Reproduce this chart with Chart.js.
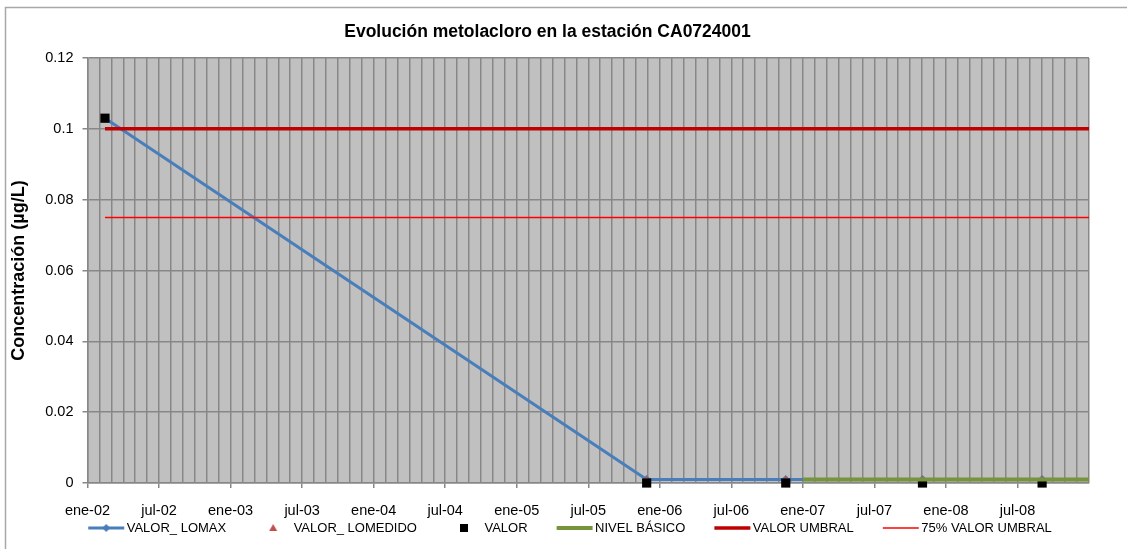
<!DOCTYPE html>
<html>
<head>
<meta charset="utf-8">
<script src="https://cdn.jsdelivr.net/npm/chart.js@4"></script>
<style>
  html, body { margin: 0; padding: 0; background: #fff; }
  #wrap { width: 1127px; height: 549px; }
</style>
</head>
<body>
<div id="wrap"><canvas id="grafico"></canvas></div>
<script>
/* Evolución metolacloro – estación CA0724001 */

/* ── datos ─────────────────────────────────────────────── */
const fechasMuestreo = ['2002-02-14', '2005-11-28', '2006-11-18', '2007-11-02', '2008-09-03'];
const valorLomax     = [0.103, 0.001, 0.001, 0.001, 0.001];
const valorLomedido  = [null, 0.001, 0.001, 0.001, 0.001];
const valor          = [0.103, 0, 0, 0, 0];

const fechasNivel    = ['2007-01-01', '2009-01-01'];
const nivelBasico    = [0.001, 0.001];

const fechasUmbral   = ['2002-02-14', '2009-01-01'];
const valorUmbral    = [0.1, 0.1];
const umbral75       = [0.075, 0.075];

const xTickLabels = ['ene-02', 'jul-02', 'ene-03', 'jul-03', 'ene-04', 'jul-04', 'ene-05',
                     'jul-05', 'ene-06', 'jul-06', 'ene-07', 'jul-07', 'ene-08', 'jul-08'];
const yTicks      = [0, 0.02, 0.04, 0.06, 0.08, 0.1, 0.12];
const yTickLabels = ['0', '0.02', '0.04', '0.06', '0.08', '0.1', '0.12'];

/* meses desde ene-02 (eje de fechas) */
function mesIndice(f) {
  const [a, m, d] = f.split('-').map(Number);
  const dias = new Date(a, m, 0).getDate();
  return (a - 2002) * 12 + (m - 1) + (d - 1) / dias;
}
const pares = (fechas, vals) => fechas.map((f, i) => ({ x: mesIndice(f), y: vals[i] }));

/* ── colores ───────────────────────────────────────────── */
const AZUL = '#4a7ebb', ROJO_TRI = '#c0504d', VERDE = '#77933c',
      ROJO_OSC = '#c00000', ROJO = '#ff0000', GRIS = '#878787';

/* leyenda: caja ancha, el símbolo va pegado al texto */
const CAJA = 59;
function simbolo(tipo) {
  const c = document.createElement('canvas');
  c.width = CAJA + 10; c.height = 12;
  const g = c.getContext('2d');
  const x0 = c.width - 37, x1 = c.width - 1, xm = (x0 + x1) / 2;
  const linea = (col, w) => {
    g.strokeStyle = col; g.lineWidth = w;
    g.beginPath(); g.moveTo(x0, 6); g.lineTo(x1, 6); g.stroke();
  };
  if (tipo === 'lomax') {
    linea(AZUL, 3);
    g.fillStyle = AZUL;
    g.beginPath(); g.moveTo(xm, 2); g.lineTo(xm + 4, 6); g.lineTo(xm, 10); g.lineTo(xm - 4, 6); g.fill();
  } else if (tipo === 'lomedido') {
    g.fillStyle = ROJO_TRI;
    g.beginPath(); g.moveTo(xm, 2); g.lineTo(xm + 4, 9); g.lineTo(xm - 4, 9); g.fill();
  } else if (tipo === 'valor') {
    g.fillStyle = '#000'; g.fillRect(xm - 4, 2, 8, 8);
  } else if (tipo === 'nivel') {
    linea(VERDE, 4);
  } else if (tipo === 'umbral') {
    linea(ROJO_OSC, 3.5);
  } else {
    linea(ROJO, 1.5);
  }
  return c;
}

/* ── fondo gris del área de trazado y marco exterior ───── */
const fondo = {
  id: 'fondo',
  afterLayout(chart) {
    chart.legend.left += 9;
    chart.legend.right += 9;
  },
  beforeDraw(chart) {
    const { ctx, chartArea: a, width, height } = chart;
    ctx.save();
    ctx.fillStyle = '#fff';
    ctx.fillRect(0, 0, width, height);
    ctx.strokeStyle = '#a8a8a8';
    ctx.lineWidth = 1.5;
    ctx.beginPath();
    ctx.moveTo(5.5, height); ctx.lineTo(5.5, 7.5); ctx.lineTo(width, 7.5);
    ctx.stroke();
    ctx.fillStyle = '#c0c0c0';
    ctx.fillRect(a.left, a.top, a.right - a.left, a.bottom - a.top);
    ctx.restore();
  }
};

Chart.defaults.font.family = '"Liberation Sans", Arial, sans-serif';
Chart.defaults.color = '#000';

const datasets = [
  { label: 'VALOR_ LOMAX', data: pares(fechasMuestreo, valorLomax), sym: 'lomax',
    showLine: true, borderColor: AZUL, backgroundColor: AZUL, borderWidth: 3,
    pointStyle: 'rectRot', pointRadius: 4.5, pointBorderWidth: 0, order: 6 },
  { label: 'VALOR_ LOMEDIDO', data: pares(fechasMuestreo, valorLomedido), sym: 'lomedido',
    showLine: false, backgroundColor: ROJO_TRI, borderColor: ROJO_TRI,
    pointStyle: 'triangle', pointRadius: 4, pointBorderWidth: 0, order: 5 },
  { label: 'VALOR', data: pares(fechasMuestreo, valor), sym: 'valor',
    showLine: false, backgroundColor: '#000', borderColor: '#000',
    pointStyle: 'rect', pointRadius: 6.5, pointBorderWidth: 0, order: 4 },
  { label: 'NIVEL BÁSICO', data: pares(fechasNivel, nivelBasico), sym: 'nivel',
    showLine: true, borderColor: VERDE, backgroundColor: VERDE, borderWidth: 4, pointRadius: 0, order: 3 },
  { label: 'VALOR UMBRAL', data: pares(fechasUmbral, valorUmbral), sym: 'umbral',
    showLine: true, borderColor: ROJO_OSC, backgroundColor: ROJO_OSC, borderWidth: 3.5, pointRadius: 0, order: 2 },
  { label: '75% VALOR UMBRAL', data: pares(fechasUmbral, umbral75), sym: 'u75',
    showLine: true, borderColor: ROJO, backgroundColor: ROJO, borderWidth: 1.5, pointRadius: 0, order: 1 }
];
datasets.forEach(d => { d.clip = false; d.fill = false; });

new Chart(document.getElementById('grafico'), {
  type: 'scatter',
  data: { datasets },
  plugins: [fondo],
  options: {
    responsive: true,
    maintainAspectRatio: false,
    animation: false,
    layout: { padding: { left: 6, top: 8, right: 38, bottom: 4.5 } },
    elements: { line: { tension: 0 } },
    plugins: {
      tooltip: { enabled: false },
      title: {
        display: true,
        text: 'Evolución metolacloro en la estación CA0724001',
        font: { size: 17.5, weight: 'bold' },
        color: '#000',
        padding: { top: 14, bottom: 15 }
      },
      legend: {
        position: 'bottom',
        labels: {
          usePointStyle: true,
          pointStyleWidth: CAJA,
          padding: 2,
          font: { size: 13 },
          generateLabels: chart => chart.data.datasets.map((d, i) => ({
            text: d.label, pointStyle: simbolo(d.sym), datasetIndex: i,
            fillStyle: d.backgroundColor, strokeStyle: d.borderColor, lineWidth: 0, hidden: false
          }))
        }
      }
    },
    scales: {
      x: {
        type: 'linear',
        min: 0,
        max: 84,
        afterFit: s => { s.height = 36.5; },
        border: { color: GRIS, width: 1.5 },
        grid: {
          color: GRIS, lineWidth: 1.5, tickLength: 5,
          tickColor: c => (c.tick && c.tick.value % 6 === 0 && c.tick.value < 84) ? GRIS : 'rgba(0,0,0,0)'
        },
        ticks: {
          stepSize: 1, autoSkip: false, maxRotation: 0, padding: 14,
          font: { size: 14.5 },
          callback: v => (v % 6 === 0 && v < 84) ? xTickLabels[v / 6] : ''
        }
      },
      y: {
        min: 0,
        max: 0.12,
        afterFit: s => { s.width = 81.5; },
        afterBuildTicks: s => { s.ticks = yTicks.map(v => ({ value: v })); },
        border: { color: GRIS, width: 1.5 },
        grid: { color: GRIS, lineWidth: 1.5, tickLength: 5, tickColor: GRIS },
        ticks: {
          padding: 9, font: { size: 14.5 },
          callback: v => yTickLabels[yTicks.indexOf(+v.toFixed(2))]
        },
        title: {
          display: true,
          text: 'Concentración (µg/L)',
          font: { size: 18, weight: 'bold' },
          color: '#000',
          padding: { top: 2, bottom: 0 }
        }
      }
    }
  }
});
</script>
</body>
</html>
